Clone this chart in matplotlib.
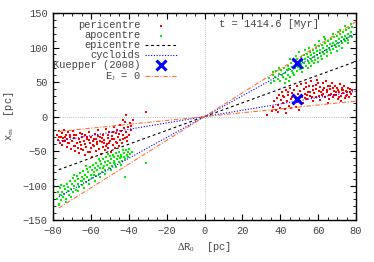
import numpy as np
import matplotlib
matplotlib.use('Agg')
import matplotlib.pyplot as plt
from matplotlib.ticker import MultipleLocator

plt.rcParams['font.family'] = ['Liberation Mono', 'DejaVu Sans Mono']
plt.rcParams['mathtext.fontset'] = 'custom'
plt.rcParams['mathtext.rm'] = 'Liberation Serif'
plt.rcParams['mathtext.it'] = 'Liberation Serif'

# pericentre, leading tail (right)
peri_r_x = [36.1, 36.8, 37.5, 38.1, 38.7, 39.3, 39.8, 40.4, 40.9, 41.5, 42.0, 42.6, 43.1, 43.6, 44.2,
            44.7, 45.2, 45.8, 46.3, 46.8, 47.4, 47.9, 48.4, 49.0, 49.5, 50.0, 50.6, 51.1, 51.6, 52.2,
            52.7, 53.2, 53.8, 54.3, 54.8, 55.4, 55.9, 56.4, 57.0, 57.5, 58.0, 58.6, 59.1, 59.6, 60.2,
            60.7, 61.2, 61.8, 62.3, 62.8, 63.4, 63.9, 64.4, 65.0, 65.5, 66.0, 66.6, 67.1, 67.6, 68.2,
            68.7, 69.2, 69.8, 70.3, 70.8, 71.4, 71.9, 72.4, 73.0, 73.5, 74.0, 74.6, 75.1, 75.6, 76.2,
            76.7, 77.2, 77.8, 54.0, 56.8, 58.9, 61.5, 63.1, 65.8, 67.9, 69.5, 71.0, 73.3, 75.4, 60.4,
            57.2, 52.9, 50.8, 48.8, 46.1, 44.0, 41.2, 62.6, 64.8, 66.3, 59.9, 55.7, 53.4, 70.5, 72.6,
            74.8, 76.9, 68.4, 35.4, 33.2, 38.9, 42.8, 45.6, 49.8, 65.2, 71.9]
peri_r_y = [14, 22, 9, 27, 17, 31, 12, 24, 35, 19, 28, 11, 38, 23, 31,
            16, 42, 26, 34, 20, 39, 29, 14, 44, 33, 24, 37, 47, 29, 19,
            40, 33, 49, 26, 36, 44, 30, 51, 22, 39, 34, 46, 28, 53, 37,
            43, 24, 32, 48, 39, 29, 51, 35, 44, 26, 40, 33, 48, 29, 37,
            45, 31, 41, 25, 36, 47, 30, 39, 34, 44, 27, 37, 32, 41, 29,
            36, 33, 39, 31, 28, 40, 36, 42, 31, 41, 35, 28, 38, 35, 30,
            45, 27, 30, 21, 29, 36, 30, 33, 38, 45, 48, 35, 43, 39, 42,
            30, 40, 32, 8, 3, 6, 5, 12, 10, 20, 22]

# pericentre, trailing tail (left)
peri_l_x = [-77.8, -77.3, -76.9, -76.4, -76.0, -75.5, -75.1, -74.6, -74.2, -73.7, -73.3, -72.8, -72.4,
            -71.9, -71.5, -71.0, -70.6, -70.1, -69.7, -69.2, -68.8, -68.3, -67.9, -67.4, -67.0, -66.5,
            -66.1, -65.6, -65.2, -64.7, -64.3, -63.8, -63.4, -62.9, -62.5, -62.0, -61.6, -61.1, -60.7,
            -60.2, -59.8, -59.3, -58.9, -58.4, -58.0, -57.5, -57.1, -56.6, -56.2, -55.7, -55.3, -54.8,
            -54.4, -53.9, -53.5, -53.0, -52.6, -52.1, -51.7, -51.2, -50.8, -50.3, -49.9, -49.4, -49.0,
            -48.5, -48.1, -47.6, -47.2, -46.7, -46.3, -45.8, -45.4, -44.9, -44.5, -44.0, -43.6, -43.1,
            -42.7, -42.2, -41.8, -41.3, -40.9, -40.4, -40.0, -39.5, -39.1, -38.6, -75.0, -72.0, -69.0,
            -66.0, -63.0, -61.0, -59.0, -57.0, -55.0, -53.0, -51.0, -49.0, -47.0, -45.0, -43.0, -41.0,
            -64.5, -68.5, -71.2, -73.8, -56.5, -52.3, -48.3, -60.5, -65.5, -62.2, -58.2, -54.1, -50.6,
            -46.5, -77.0, -41.5, -31.0, -43.0, -38.0]
peri_l_y = [-26, -34, -21, -38, -29, -24, -41, -31, -19, -36, -27, -44, -32,
            -23, -39, -29, -47, -35, -21, -42, -31, -50, -26, -38, -45, -33,
            -53, -24, -41, -30, -48, -36, -56, -27, -44, -33, -51, -22, -39,
            -46, -30, -58, -36, -43, -25, -50, -33, -40, -20, -47, -29, -54,
            -37, -44, -26, -34, -49, -18, -40, -31, -45, -23, -36, -52, -28,
            -41, -15, -33, -46, -24, -38, -29, -43, -12, -34, -21, -39, -27,
            -17, -31, -8, -23, -36, -15, -27, -10, -20, -14, -35, -38, -27,
            -37, -40, -34, -41, -37, -35, -39, -27, -32, -37, -25, -33, -29,
            -25, -43, -26, -30, -28, -42, -22, -52, -47, -30, -32, -31, -38,
            -19, -30, 3, 7, -5, -5]

# apocentre, leading tail (right)
apo_r_x = [34.2, 35.1, 35.9, 36.7, 37.4, 37.9, 38.6, 39.2, 39.8, 40.3, 40.9, 41.4, 41.8, 42.3, 42.9,
           43.3, 43.8, 44.2, 44.7, 45.1, 45.6, 46.0, 46.4, 46.9, 47.3, 47.7, 48.1, 48.6, 49.0, 49.4,
           49.8, 50.3, 50.7, 51.1, 51.5, 51.9, 52.3, 52.7, 53.1, 53.6, 54.0, 54.4, 54.8, 55.2, 55.6,
           56.0, 56.4, 56.8, 57.2, 57.6, 58.0, 58.4, 58.8, 59.2, 59.6, 60.0, 60.4, 60.8, 61.2, 61.6,
           62.0, 62.4, 62.8, 63.2, 63.6, 64.0, 64.4, 64.8, 65.2, 65.6, 66.0, 66.4, 66.8, 67.2, 67.6,
           68.0, 68.4, 68.8, 69.2, 69.6, 70.0, 70.4, 70.8, 71.2, 71.6, 72.0, 72.4, 72.8, 73.2, 73.6,
           74.0, 74.4, 74.8, 75.2, 75.6, 76.0, 76.4, 76.8, 77.2, 77.6, 78.0, 53.3, 58.3, 61.9, 66.7,
           71.4, 75.9, 44.5, 48.3, 56.2, 63.7, 69.9, 74.2, 39.5, 42.6, 51.2, 60.2, 67.9, 72.7, 77.4,
           36.2, 47.1, 55.1, 64.6, 70.3, 57.9, 62.9, 45.3, 50.1, 54.6, 59.8]
apo_r_y = [56, 48, 61, 52, 58, 66, 55, 62, 51, 68, 60, 57, 71, 63, 54,
           67, 74, 61, 69, 58, 77, 66, 72, 63, 80, 70, 75, 66, 83, 72,
           79, 69, 86, 76, 81, 71, 89, 78, 84, 74, 91, 81, 87, 77, 94,
           84, 89, 80, 97, 86, 92, 82, 99, 89, 95, 85, 102, 92, 97, 88,
           104, 94, 100, 90, 107, 97, 102, 93, 110, 100, 105, 96, 112, 102, 107,
           98, 115, 104, 110, 101, 117, 107, 112, 103, 120, 109, 115, 106, 122, 112,
           117, 109, 125, 114, 120, 111, 128, 117, 123, 115, 130, 96, 104, 83, 92,
           126, 106, 52, 88, 73, 113, 95, 131, 71, 49, 65, 110, 119, 100, 134,
           64, 60, 100, 88, 122, 77, 116, 84, 93, 70, 79]

# apocentre, trailing tail (left)
apo_l_x = [-77.9, -77.5, -77.1, -76.6, -76.2, -75.8, -75.3, -74.9, -74.5, -74.0, -73.6, -73.2, -72.7,
           -72.3, -71.9, -71.4, -71.0, -70.6, -70.1, -69.7, -69.3, -68.8, -68.4, -68.0, -67.5, -67.1,
           -66.7, -66.2, -65.8, -65.4, -64.9, -64.5, -64.1, -63.6, -63.2, -62.8, -62.3, -61.9, -61.5,
           -61.0, -60.6, -60.2, -59.7, -59.3, -58.9, -58.4, -58.0, -57.6, -57.1, -56.7, -56.3, -55.8,
           -55.4, -55.0, -54.5, -54.1, -53.7, -53.2, -52.8, -52.4, -51.9, -51.5, -51.1, -50.6, -50.2,
           -49.8, -49.3, -48.9, -48.5, -48.0, -47.6, -47.2, -46.7, -46.3, -45.9, -45.4, -45.0, -44.6,
           -44.1, -43.7, -43.3, -42.8, -42.4, -42.0, -41.5, -41.1, -40.7, -40.2, -39.8, -39.4, -76.8,
           -73.0, -70.4, -66.9, -63.8, -60.9, -57.9, -55.2, -52.6, -49.6, -46.9, -44.2, -75.6, -69.0,
           -62.7, -56.0, -50.9, -65.0, -58.6, -53.4, -47.9, -43.9, -31.0, -42.0, -38.5]
apo_l_y = [-119, -110, -126, -114, -104, -121, -109, -116, -100, -112, -105, -119, -97,
           -108, -102, -114, -93, -105, -98, -110, -89, -101, -94, -106, -86, -97,
           -91, -102, -82, -94, -87, -99, -79, -90, -84, -95, -76, -87, -81,
           -92, -73, -84, -78, -89, -70, -81, -75, -86, -67, -78, -72, -83,
           -64, -75, -69, -80, -62, -72, -66, -77, -59, -70, -64, -74, -57,
           -67, -61, -71, -55, -64, -59, -69, -53, -62, -57, -66, -51, -60,
           -55, -64, -49, -58, -53, -62, -48, -56, -51, -59, -47, -54, -128,
           -124, -117, -108, -104, -98, -93, -88, -83, -78, -73, -70, -99, -84,
           -72, -62, -54, -93, -85, -75, -67, -59, -67, -87, -52]

# Kuepper (2008) positions
kuep_x = [48.7, 48.7]
kuep_y = [77, 25]

# slopes of the guide lines through the origin
epi_slope = 1.0
cyc_slopes = [1.51, 0.46]
ej_slopes = [1.72, 0.28]
line_x = [-77, 80]

fig = plt.figure(figsize=(3.74, 2.62), dpi=100)
ax = fig.add_axes([0.142, 0.160, 0.810, 0.790])

ax.axhline(0, color='#aaaaaa', lw=0.6, ls=':', zorder=0)
ax.axvline(0, color='#aaaaaa', lw=0.6, ls=':', zorder=0)

red = '#ff0000'
green = '#00f000'
ax.scatter(peri_r_x + peri_l_x, peri_r_y + peri_l_y, s=4.5, marker='s', color=red, lw=0,
           label='pericentre', zorder=2)
ax.scatter(apo_r_x + apo_l_x, apo_r_y + apo_l_y, s=4.5, marker='s', color=green, lw=0,
           label='apocentre', zorder=2)

lx = np.array(line_x)
ax.plot(lx, epi_slope * lx, color='black', ls=(0, (2.5, 2.5)), lw=0.8, label='epicentre', zorder=3)
for i, s in enumerate(cyc_slopes):
    ax.plot(lx, s * lx, color='#0000ff', ls=(0, (1, 1.5)), lw=0.8,
            label='cycloids' if i == 0 else None, zorder=3)
ax.plot(kuep_x, kuep_y, ls='none', marker='x', ms=7, mew=2.2, color='#0000ff',
        label='Kuepper (2008)', zorder=4)
for i, s in enumerate(ej_slopes):
    ax.plot(lx, s * lx, color='#ff7040', ls=(0, (4, 1.5, 1, 1.5)), lw=0.8,
            label='E$_J$ = 0' if i == 0 else None, zorder=3)

ax.set_xlim(-80, 80)
ax.set_ylim(-150, 150)
ax.xaxis.set_major_locator(MultipleLocator(20))
ax.xaxis.set_minor_locator(MultipleLocator(5))
ax.yaxis.set_major_locator(MultipleLocator(50))
ax.yaxis.set_minor_locator(MultipleLocator(10))
ax.tick_params(which='both', direction='in', top=True, right=True, labelsize=7.5,
               labelcolor='#444444', pad=4)
ax.tick_params(which='major', length=4, width=0.8)
ax.tick_params(which='minor', length=2, width=0.6)
for sp in ax.spines.values():
    sp.set_linewidth(1.0)

ax.set_xlabel(r'$\Delta$R$_0$  [pc]', fontsize=7.5, color='#444444', labelpad=3)
ax.set_ylabel(r'x$_m$  [pc]', fontsize=7.5, color='#444444', labelpad=5)

ax.text(7.6, 134, 't = 1414.6 [Myr]', fontsize=7.5, color='#444444', va='center', ha='left')

leg = ax.legend(loc='upper right', bbox_to_anchor=(0.425, 0.99), frameon=False,
                markerfirst=False, fontsize=7.5, labelspacing=0.0, handlelength=3.0,
                handletextpad=0.5, borderpad=0, scatterpoints=1)
for t in leg.get_texts():
    t.set_color('#444444')

fig.savefig('out.png', dpi=100)
